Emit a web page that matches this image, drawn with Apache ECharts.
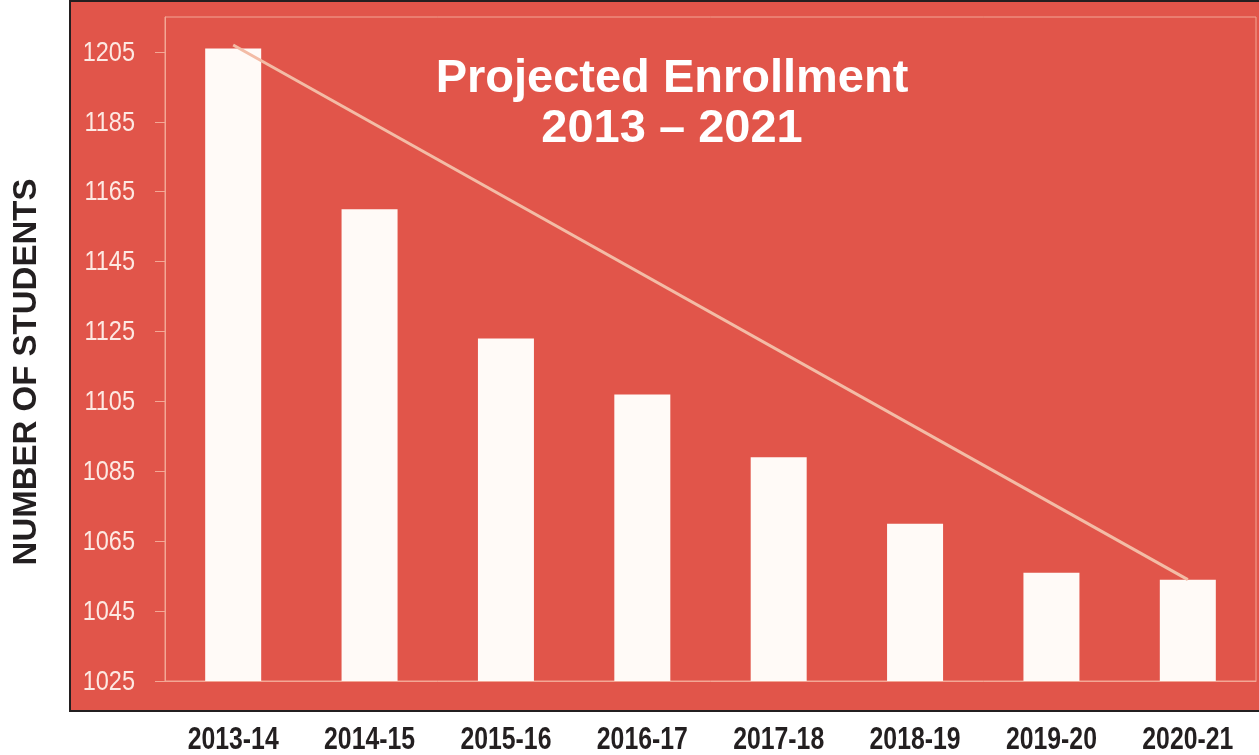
<!DOCTYPE html>
<html>
<head>
<meta charset="utf-8">
<script src="https://cdn.jsdelivr.net/npm/echarts@6/dist/echarts.min.js"></script>
<style>
html,body{margin:0;padding:0;background:#ffffff;}
#chart{width:1259px;height:755px;}
</style>
</head>
<body>
<div id="chart"></div>
<script>
var categories = ['2013-14','2014-15','2015-16','2016-17','2017-18','2018-19','2019-20','2020-21'];
var enrollment = [1206, 1160, 1123, 1107, 1089, 1070, 1056, 1054];
var trendLine = [1207, null, null, null, null, null, null, 1054];
var yTicks = [1025, 1045, 1065, 1085, 1105, 1125, 1145, 1165, 1185, 1205];
var titleText = 'Projected Enrollment\n2013 \u2013 2021';
var yAxisTitle = 'NUMBER OF STUDENTS';

var Y_MIN = 1025, Y_MAX = 1215;
var RED = '#e1554a';
var LIGHT = '#f3a795';

var chart = echarts.init(document.getElementById('chart'), null, {renderer: 'canvas'});
chart.setOption({
  backgroundColor: '#ffffff',
  animation: false,
  title: {
    text: titleText,
    left: 667,
    top: 49,
    textAlign: 'center',
    textStyle: {
      color: '#ffffff',
      fontFamily: 'Liberation Sans, Arial, sans-serif',
      fontWeight: 'bold',
      fontSize: 47,
      lineHeight: 50
    }
  },
  graphic: [{
    type: 'rect',
    z: -10,
    shape: {x: 70, y: 1, width: 1195, height: 710},
    style: {fill: RED, stroke: '#231f20', lineWidth: 2}
  }, {
    type: 'text',
    x: 27, y: 372,
    rotation: Math.PI / 2,
    style: {
      text: yAxisTitle,
      fill: '#231f20',
      font: 'bold 33px "Liberation Sans", Arial, sans-serif',
      align: 'center',
      verticalAlign: 'middle'
    }
  }],
  grid: {
    left: 165, right: 3, top: 17, bottom: 74,
    show: true,
    backgroundColor: 'transparent',
    borderColor: LIGHT,
    borderWidth: 1
  },
  xAxis: {
    type: 'category',
    data: categories,
    axisLine: {show: true, lineStyle: {color: LIGHT, width: 1}},
    axisTick: {show: false},
    axisLabel: {show: false},
    splitLine: {show: false}
  },
  yAxis: {
    type: 'value',
    min: Y_MIN,
    max: Y_MAX,
    axisLine: {show: true, lineStyle: {color: LIGHT, width: 1}},
    axisTick: {show: true, length: 10, customValues: yTicks, lineStyle: {color: LIGHT}},
    axisLabel: {show: false},
    splitLine: {show: false}
  },
  series: [{
    type: 'bar',
    data: enrollment,
    barWidth: 56,
    itemStyle: {color: '#fffaf7'},
    z: 2
  }, {
    type: 'line',
    data: trendLine,
    connectNulls: true,
    symbol: 'none',
    lineStyle: {color: '#f3bca6', width: 3},
    z: 3
  }, {
    // condensed category labels under the axis
    type: 'custom',
    data: categories.map(function (c, i) { return [i, Y_MIN]; }),
    clip: false,
    silent: true,
    z: 5,
    renderItem: function (params, api) {
      var p = api.coord([api.value(0), api.value(1)]);
      return {
        type: 'text',
        x: p[0], y: p[1] + 59,
        scaleX: 0.8,
        style: {
          text: categories[params.dataIndex],
          fill: '#231f20',
          font: 'bold 31px "Liberation Sans", Arial, sans-serif',
          align: 'center',
          verticalAlign: 'middle'
        }
      };
    }
  }, {
    // condensed value tick labels left of the axis
    type: 'custom',
    data: yTicks.map(function (v) { return [0, v]; }),
    clip: false,
    silent: true,
    z: 5,
    renderItem: function (params, api) {
      var p = api.coord([api.value(0), api.value(1)]);
      var band = api.size([1, 0])[0];
      return {
        type: 'text',
        x: p[0] - band / 2 - 30, y: p[1] + 1,
        scaleX: 0.84,
        style: {
          text: String(yTicks[params.dataIndex]),
          fill: '#fde9e3',
          font: '28px "Liberation Sans", Arial, sans-serif',
          align: 'right',
          verticalAlign: 'middle'
        }
      };
    }
  }]
});
</script>
</body>
</html>
